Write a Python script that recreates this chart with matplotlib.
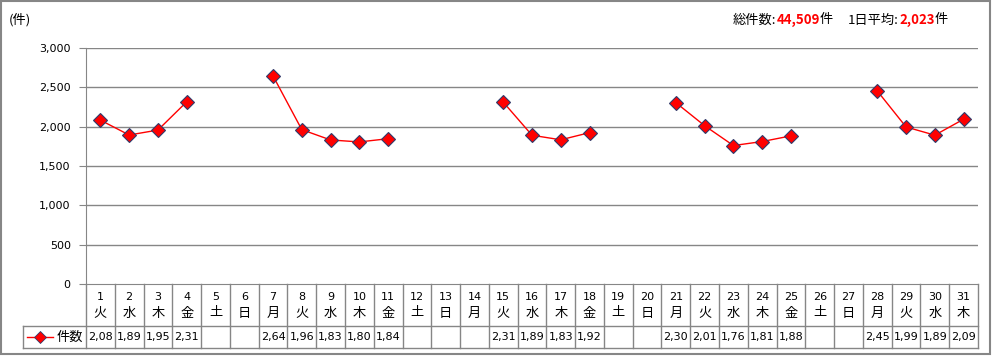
import numpy as np
import matplotlib
matplotlib.use('Agg')
import matplotlib.pyplot as plt
from matplotlib.patches import Rectangle

plt.rcParams['font.family'] = ['DejaVu Sans', 'Noto Sans CJK JP']

# dados do mês (fim de semana sem valor)
dias = list(range(1, 32))
semana = ['火', '水', '木', '金', '土', '日', '月'] * 5
semana = semana[:31]
valores = [2083, 1894, 1957, 2316, None, None, 2645, 1962, 1831, 1806, 1847,
           None, None, None, 2312, 1891, 1833, 1924, None, None, 2305, 2012,
           1760, 1811, 1883, None, None, 2454, 1996, 1892, 2095]
nome_serie = '件数'

W, H = 994, 356
fig = plt.figure(figsize=(W / 100, H / 100), dpi=100)

def fx(px):
    return px / W

def fy(py):
    return 1 - py / H

cinza = '#868686'
vermelho = '#FF0000'
borda_marker = '#2F3B6B'

# area do grafico
x0, x1, ytop, ybot = 86, 978, 48, 284
ax = fig.add_axes([fx(x0), fy(ybot), fx(x1 - x0), (ybot - ytop) / H])
y = np.array([np.nan if v is None else v for v in valores], dtype=float)
ax.plot(dias, y, color=vermelho, lw=1, marker='D', markersize=7.5,
        markerfacecolor=vermelho, markeredgecolor=borda_marker, markeredgewidth=0.8, zorder=3)
ax.set_xlim(0.5, 31.5)
ax.set_ylim(0, 3000)
ax.set_yticks(range(0, 3001, 500))
ax.set_yticklabels([f'{t:,}' for t in range(0, 3001, 500)], fontsize=8)
ax.set_xticks([])
for t in range(500, 3001, 500):
    ax.axhline(t, color=cinza, lw=1, zorder=1)
for s in ['top', 'right']:
    ax.spines[s].set_visible(False)
for s in ['left', 'bottom']:
    ax.spines[s].set_color(cinza)
ax.tick_params(axis='y', color=cinza, length=5, pad=6)

# tabela de dados embaixo
tab_bot = 348
tax = fig.add_axes([fx(x0), fy(tab_bot), fx(x1 - x0), (tab_bot - ybot) / H])
tax.set_xlim(0.5, 31.5)
tax.set_ylim(tab_bot - ybot, 0)
tax.axis('off')
col_w = (x1 - x0) / 31
xl = 0.5 - (x0 - 23) / col_w
linha = dict(color=cinza, lw=1, clip_on=False)
tax.plot([xl, 31.5], [42, 42], **linha)
tax.plot([xl, 31.5], [64, 64], **linha)
for k in range(32):
    tax.plot([k + 0.5, k + 0.5], [0, 64], **linha)
tax.plot([xl, xl], [42, 64], **linha)
for d, s, v in zip(dias, semana, valores):
    tax.text(d, 13, str(d), ha='center', va='center', fontsize=8)
    tax.text(d, 29, s, ha='center', va='center', fontsize=9.5, family=['Noto Sans CJK JP'])
    if v is not None:
        tax.text(d, 53, f'{v:,}'[:4], ha='center', va='center', fontsize=8)
# legenda na tabela
lx = xl + 4 / col_w
tax.plot([lx, lx + 26 / col_w], [53, 53], color=vermelho, lw=1, clip_on=False)
tax.plot([lx + 13 / col_w], [53], marker='D', markersize=6, color=vermelho,
         markeredgecolor=borda_marker, markeredgewidth=0.6, clip_on=False)
tax.text(lx + 30 / col_w, 53, nome_serie, ha='left', va='center', fontsize=9.5,
         family=['Noto Sans CJK JP'])

# unidade
fig.text(fx(9), fy(20), '(件)', ha='left', va='center', fontsize=9.5,
         family=['Noto Sans CJK JP', 'DejaVu Sans'])

# resumo no topo
vals = [v for v in valores if v is not None]
total = sum(vals)
media = round(total / len(vals))
partes = [('総件数:', 'black', 'normal', 0), (f'{total:,}', vermelho, 'bold', 0),
          ('件', 'black', 'normal', 0), ('1日平均:', 'black', 'normal', 15),
          (f'{media:,}', vermelho, 'bold', 0), ('件', 'black', 'normal', 0)]
renderer = fig.canvas.get_renderer()
xpos = 733
for txt, cor, peso, gap in partes:
    xpos += gap
    t = fig.text(fx(xpos), fy(20), txt, ha='left', va='center', fontsize=9.5, color=cor,
                 fontweight=peso, family=['Noto Sans CJK JP', 'DejaVu Sans'])
    xpos += t.get_window_extent(renderer).width

# moldura externa
fig.patches.append(Rectangle((fx(1), fy(354)), fx(989), (353) / H, transform=fig.transFigure,
                             fill=False, edgecolor=cinza, lw=1.5))

fig.savefig('out.png', dpi=100)
